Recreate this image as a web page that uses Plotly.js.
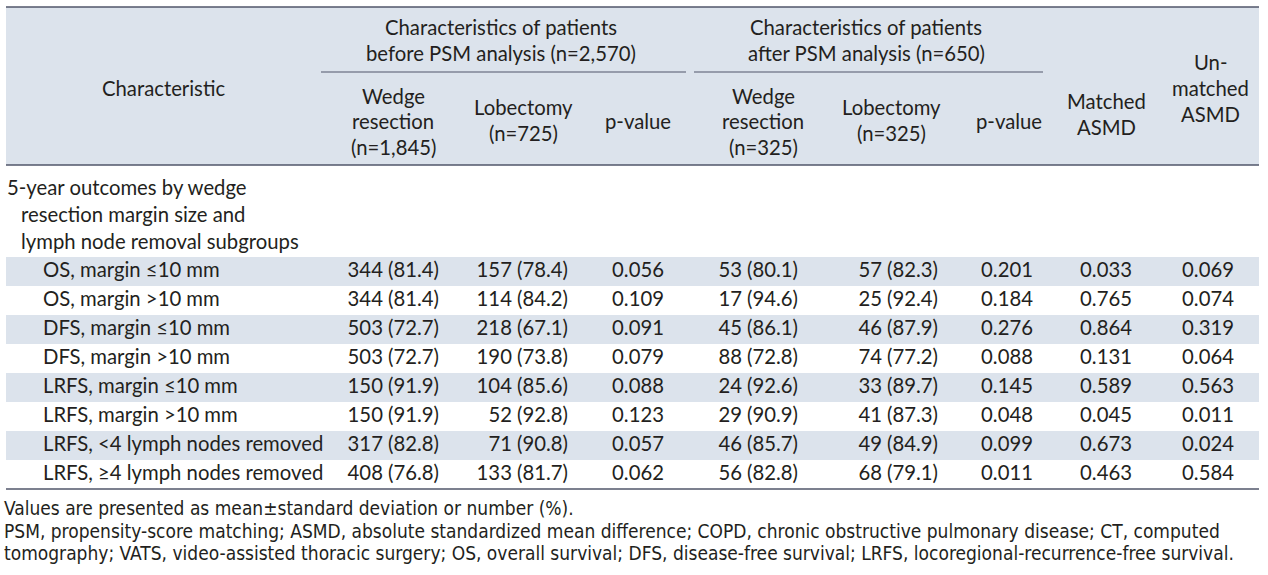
<!DOCTYPE html>
<html>
<head>
<meta charset="utf-8">
<script src="https://cdn.plot.ly/plotly-3.0.1.min.js"></script>
<style>html,body{margin:0;padding:0;background:#fff;}#chart{width:1268px;height:575px;}</style>
</head>
<body>
<div id="chart"></div>
<script>
// ---------- DATA ----------
const groupLabel = ["5-year outcomes by wedge", "resection margin size and", "lymph node removal subgroups"];
const rowLabels = [
  "OS, margin ≤10 mm",
  "OS, margin >10 mm",
  "DFS, margin ≤10 mm",
  "DFS, margin >10 mm",
  "LRFS, margin ≤10 mm",
  "LRFS, margin >10 mm",
  "LRFS, <4 lymph nodes removed",
  "LRFS, ≥4 lymph nodes removed"
];
const wedgeBeforeN   = [344, 344, 503, 503, 150, 150, 317, 408];
const wedgeBeforePct = [81.4, 81.4, 72.7, 72.7, 91.9, 91.9, 82.8, 76.8];
const lobBeforeN     = [157, 114, 218, 190, 104, 52, 71, 133];
const lobBeforePct   = [78.4, 84.2, 67.1, 73.8, 85.6, 92.8, 90.8, 81.7];
const pBefore        = [0.056, 0.109, 0.091, 0.079, 0.088, 0.123, 0.057, 0.062];
const wedgeAfterN    = [53, 17, 45, 88, 24, 29, 46, 56];
const wedgeAfterPct  = [80.1, 94.6, 86.1, 72.8, 92.6, 90.9, 85.7, 82.8];
const lobAfterN      = [57, 25, 46, 74, 33, 41, 49, 68];
const lobAfterPct    = [82.3, 92.4, 87.9, 77.2, 89.7, 87.3, 84.9, 79.1];
const pAfter         = [0.201, 0.184, 0.276, 0.088, 0.145, 0.048, 0.099, 0.011];
const matchedASMD    = [0.033, 0.765, 0.864, 0.131, 0.589, 0.045, 0.673, 0.463];
const unmatchedASMD  = [0.069, 0.074, 0.319, 0.064, 0.563, 0.011, 0.024, 0.584];

const groupHeaders = [
  ["Characteristics of patients", "before PSM analysis (n=2,570)"],
  ["Characteristics of patients", "after PSM analysis (n=650)"]
];
const colHeaders = [
  ["Characteristic"],
  ["Wedge", "resection", "(n=1,845)"],
  ["Lobectomy", "(n=725)"],
  ["p-value"],
  ["Wedge", "resection", "(n=325)"],
  ["Lobectomy", "(n=325)"],
  ["p-value"],
  ["Matched", "ASMD"],
  ["Un-", "matched", "ASMD"]
];
const footnotes = [
  "Values are presented as mean±standard deviation or number (%).",
  "PSM, propensity-score matching; ASMD, absolute standardized mean difference; COPD, chronic obstructive pulmonary disease; CT, computed",
  "tomography; VATS, video-assisted thoracic surgery; OS, overall survival; DFS, disease-free survival; LRFS, locoregional-recurrence-free survival."
];

// ---------- LAYOUT CONSTANTS ----------
const W = 1268, H = 575;
const FONT = "Lato, 'Open Sans', sans-serif";
const FOOTFONT = "'Liberation Sans Narrow', 'DejaVu Sans Condensed', sans-serif";
const TXT = "#231f20";
const LINE = "#50566a";
const BG = "#dce3ec";
const FS = 20.3;
const tableL = 6, tableR = 1259;
const topY = 7, headBottom = 165, subLineY = 72;
const rowTop0 = 257, rowH = 29;
const rowY = i => rowTop0 + rowH * i + rowH / 2;
const bottomY = rowTop0 + rowH * rowLabels.length;

const colHeadX = [163, 393, 523, 638, 763, 891, 1009, 1106, 1210];
const colHeadY = [
  [88],
  [96, 121, 147],
  [107, 133],
  [121],
  [96, 121, 147],
  [107, 133],
  [121],
  [101, 127],
  [62, 88, 114]
];
const groupX = [501, 866];
const groupY = [27, 53];
const subLines = [[321, 686], [694, 1043]];

const fmtNP = (n, p) => n + " (" + p.toFixed(1) + ")";
const fmt3 = v => v.toFixed(3);

const rows = rowLabels.map((_, i) => i);
const ys = rows.map(rowY);

function textTrace(x, texts, pos) {
  return {
    type: "scatter", mode: "text",
    x: texts.map(() => x), y: ys, text: texts,
    textposition: pos,
    textfont: {family: FONT, size: FS, color: TXT},
    hoverinfo: "skip", showlegend: false, cliponaxis: false
  };
}

const traces = [
  textTrace(43, rowLabels, "middle right"),
  textTrace(439, rows.map(i => fmtNP(wedgeBeforeN[i], wedgeBeforePct[i])), "middle left"),
  textTrace(568, rows.map(i => fmtNP(lobBeforeN[i], lobBeforePct[i])), "middle left"),
  textTrace(638, pBefore.map(fmt3), "middle center"),
  textTrace(798, rows.map(i => fmtNP(wedgeAfterN[i], wedgeAfterPct[i])), "middle left"),
  textTrace(938, rows.map(i => fmtNP(lobAfterN[i], lobAfterPct[i])), "middle left"),
  textTrace(1007, pAfter.map(fmt3), "middle center"),
  textTrace(1106, matchedASMD.map(fmt3), "middle center"),
  textTrace(1208, unmatchedASMD.map(fmt3), "middle center")
];

// ---------- SHAPES ----------
const shapes = [];
shapes.push({type: "rect", xref: "x", yref: "y", x0: tableL, x1: tableR, y0: topY, y1: headBottom,
  fillcolor: BG, line: {width: 0}, layer: "below"});
rows.forEach(i => {
  if (i % 2 === 0) {
    shapes.push({type: "rect", xref: "x", yref: "y", x0: tableL, x1: tableR,
      y0: rowTop0 + rowH * i, y1: rowTop0 + rowH * (i + 1),
      fillcolor: BG, line: {width: 0}, layer: "below"});
  }
});
[topY, headBottom, bottomY].forEach(y => shapes.push({type: "line", xref: "x", yref: "y",
  x0: tableL, x1: tableR, y0: y, y1: y, line: {color: LINE, width: 1.6}}));
subLines.forEach(([a, b]) => shapes.push({type: "line", xref: "x", yref: "y",
  x0: a, x1: b, y0: subLineY, y1: subLineY, line: {color: LINE, width: 1.2}}));

// ---------- ANNOTATIONS ----------
const ann = [];
function addText(x, y, text, xanchor, font) {
  ann.push({xref: "x", yref: "y", x: x, y: y, text: text, showarrow: false,
    xanchor: xanchor, yanchor: "middle", align: xanchor === "center" ? "center" : "left",
    font: font || {family: FONT, size: FS, color: TXT}});
}
groupHeaders.forEach((lines, g) => lines.forEach((t, k) => addText(groupX[g], groupY[k], t, "center")));
colHeaders.forEach((lines, c) => lines.forEach((t, k) => addText(colHeadX[c], colHeadY[c][k], t, "center")));
addText(5, 187, groupLabel[0], "left");
addText(19, 214, groupLabel[1], "left");
addText(19, 241, groupLabel[2], "left");
const footFont = {family: FOOTFONT, size: 19, color: TXT};
addText(2, 508, footnotes[0], "left", footFont);
addText(2, 531, footnotes[1], "left", footFont);
addText(2, 553, footnotes[2], "left", footFont);

const layout = {
  width: W, height: H,
  margin: {l: 0, r: 0, t: 0, b: 0, pad: 0},
  paper_bgcolor: "#ffffff", plot_bgcolor: "#ffffff",
  xaxis: {range: [0, W], visible: false, fixedrange: true},
  yaxis: {range: [H, 0], visible: false, fixedrange: true},
  shapes: shapes, annotations: ann, showlegend: false
};
Plotly.newPlot("chart", traces, layout, {displayModeBar: false, staticPlot: true});
</script>
</body>
</html>
